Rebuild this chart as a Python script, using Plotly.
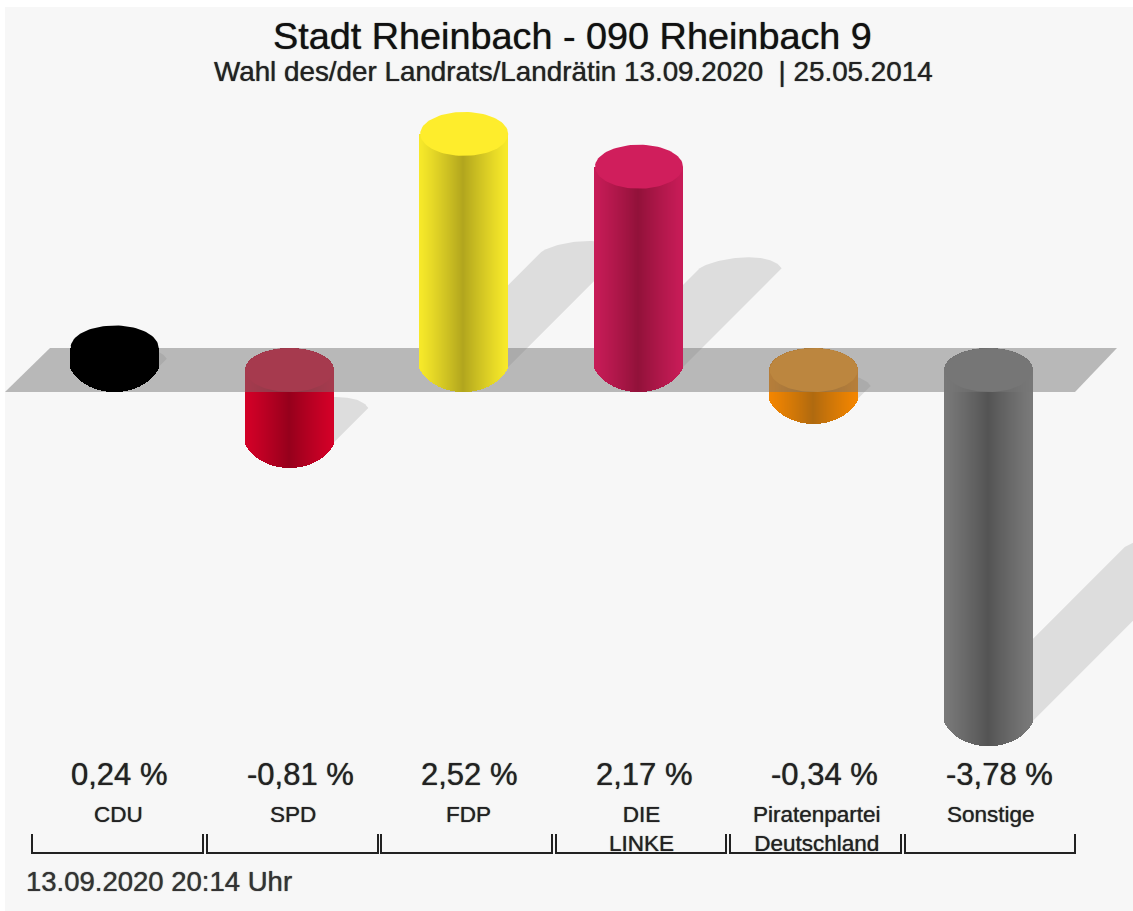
import numpy as np
import plotly.graph_objects as go

# ---- data ----
parties = ["CDU", "SPD", "FDP", "DIE<br>LINKE", "Piratenpartei<br>Deutschland", "Sonstige"]
values = [0.24, -0.81, 2.52, 2.17, -0.34, -3.78]
value_labels = ["0,24 %", "-0,81 %", "2,52 %", "2,17 %", "-0,34 %", "-3,78 %"]
title_text = "Stadt Rheinbach - 090 Rheinbach 9"
subtitle_text = "Wahl des/der Landrats/Landrätin 13.09.2020  | 25.05.2014"
stamp_text = "13.09.2020 20:14 Uhr"

# ---- styles ----
edge_colors = [(0, 0, 0), (212, 0, 40), (248, 234, 42), (200, 28, 88), (244, 134, 0), (122, 122, 122)]
mid_colors = [(0, 0, 0), (150, 0, 28), (178, 166, 30), (146, 18, 58), (176, 106, 16), (84, 84, 84)]
cap_colors = [(0, 0, 0), (212, 0, 40), (254, 237, 44), (208, 30, 92), (255, 150, 10), (118, 118, 118)]
W, H = 1133, 911
L, T = 5, 7
X0_PX, X_PX = 114.6, 174.8     # pixel of first category, pixels per category
Y0_PX, Y_PX = 370.0, 93.7      # pixel of zero, pixels per percentage point
RX, RY = 44.0, 22.0            # cylinder end ellipse radii in pixels
xr = [(L - X0_PX) / X_PX, (W - X0_PX) / X_PX]
yr = [(Y0_PX - H) / Y_PX, (Y0_PX - T) / Y_PX]
FONT = "Liberation Sans, Arial, sans-serif"


def dx(px):
    return px / X_PX


def dy(px):
    return px / Y_PX


def rgb(c):
    return f"rgb({c[0]},{c[1]},{c[2]})"


def paper_x(px):
    return (px - L) / (W - L)


def paper_y(py):
    return 1 - (py - T) / (H - T)


def bulge(w):
    """Chord-cut arc profile: 1 at w=0, 0 at w=+-1."""
    s = 0.93
    c = np.sqrt(1 - s ** 2)
    return (np.sqrt(1 - (s * w) ** 2) - c) / (1 - c)


fig = go.Figure()

# ---- cast shadows ----
SA, SB = 41.0, 11.0
w_back = np.linspace(1, -1, 50)
w_fwd = np.linspace(-1, 1, 50)
for i, v in enumerate(values):
    run = abs(v) * 0.5
    sx, sy = float(i), min(v, 0.0)
    ex, ey = i + run * Y_PX / X_PX, sy + run
    xs = np.r_[ex + dx(SA * w_back + 8 * (1 - w_back ** 2)), sx + dx(SA * w_fwd)]
    ys = np.r_[ey + dy(SB * bulge(w_back)), sy - dy(SB * bulge(w_fwd))]
    fig.add_trace(go.Scatter(x=xs, y=ys, mode="lines", fill="toself", line=dict(width=0),
                             fillcolor="rgba(0,0,0,0.1)", hoverinfo="skip", xaxis="x", yaxis="y"))

# ---- bracket lines ----
bracket_left = [32, 207, 381, 556, 730, 905]
bracket_right = [203, 378, 552, 726, 901, 1075]
bx, by = [], []
for a, b in zip(bracket_left, bracket_right):
    bx += [dx(a - X0_PX), dx(a - X0_PX), dx(b - X0_PX), dx(b - X0_PX), None]
    by += [dy(Y0_PX - 834), dy(Y0_PX - 853), dy(Y0_PX - 853), dy(Y0_PX - 834), None]
fig.add_trace(go.Scatter(x=bx, y=by, mode="lines", line=dict(color="#222222", width=2),
                         hoverinfo="skip", xaxis="x", yaxis="y"))


def cylinder(i, v, xa, ya):
    off = np.arange(-RX + 0.5, RX, 1.0)
    w = off / RX
    u = np.abs(w)
    arc = dy(RY * np.sqrt(1 - u ** 2))
    low = dy(-2 + (RY + 2) * bulge(w))     # lower end of the body
    t = (1 - u) ** 1.15
    e, m = np.array(edge_colors[i]), np.array(mid_colors[i])
    cols = [rgb((e + (m - e) * k).astype(int)) for k in t]
    if v >= 0:
        base = -low
        top = np.full_like(arc, v)
    else:
        base = v - low
        top = arc
    fig.add_trace(go.Bar(x=i + dx(off), y=top - base, base=base, width=dx(1.5),
                         marker=dict(color=cols, line=dict(width=0)),
                         hoverinfo="skip", xaxis=xa, yaxis=ya))
    a = np.linspace(0, 2 * np.pi, 90)
    cy = max(v, 0.0)
    fig.add_trace(go.Scatter(x=i + dx(RX * np.cos(a)), y=cy + dy(RY * np.sin(a)), mode="lines",
                             fill="toself", line=dict(width=0), fillcolor=rgb(cap_colors[i]),
                             hoverinfo="skip", xaxis=xa, yaxis=ya))


# ---- bars that hang below the plane ----
for i, v in enumerate(values):
    if v < 0:
        cylinder(i, v, "x2", "y2")

# ---- translucent plane ----
plane_x = [dx(5 - X0_PX), dx(50 - X0_PX), dx(1117 - X0_PX), dx(1075 - X0_PX), dx(5 - X0_PX)]
plane_y = [-dy(RY), dy(RY), dy(RY), -dy(RY), -dy(RY)]
fig.add_trace(go.Scatter(x=plane_x, y=plane_y, mode="lines", fill="toself", line=dict(width=0),
                         fillcolor="rgba(119,119,119,0.49)", hoverinfo="skip", xaxis="x2", yaxis="y2"))

# ---- bars that stand on the plane ----
for i, v in enumerate(values):
    if v >= 0:
        cylinder(i, v, "x3", "y3")

# ---- texts ----
SOFT = "0 0 1px rgba(0,0,0,0.75)"
ann = [
    dict(text=title_text, x=paper_x(572), y=paper_y(36), size=37.8, xref="paper", yref="paper", color="#111111"),
    dict(text=subtitle_text, x=paper_x(573), y=paper_y(71), size=27.8, xref="paper", yref="paper", color="#222222"),
    dict(text=stamp_text, x=paper_x(159), y=paper_y(881), size=27.5, xref="paper", yref="paper", color="#333333"),
]
value_px = [119, 300, 469, 644, 824, 999]
name_px = [118, 293, 468, 641, 817, 991]
for i in range(6):
    ann.append(dict(text=value_labels[i], x=dx(value_px[i] - X0_PX), y=dy(Y0_PX - 774), size=31,
                    xref="x", yref="y", color="#222222"))
annotations = [dict(text=a["text"], x=a["x"], y=a["y"], xref=a["xref"], yref=a["yref"], showarrow=False,
                    xanchor="center", yanchor="middle",
                    font=dict(family=FONT, size=a["size"], color=a["color"], shadow=SOFT)) for a in ann]
for i in range(6):
    annotations.append(dict(text=parties[i], x=dx(name_px[i] - X0_PX), y=dy(Y0_PX - 799.5), xref="x", yref="y",
                            showarrow=False, xanchor="center", yanchor="top", align="center",
                            font=dict(family=FONT, size=22.5, color="#222222", shadow=SOFT)))

hidden = dict(visible=False, fixedrange=True, showgrid=False, zeroline=False)
fig.update_layout(
    width=W, height=H, autosize=False,
    margin=dict(l=L, r=0, t=T, b=0, pad=0),
    paper_bgcolor="#ffffff", plot_bgcolor="#f7f7f7",
    barmode="overlay", bargap=0, showlegend=False,
    annotations=annotations,
    xaxis=dict(range=xr, **hidden), yaxis=dict(range=yr, **hidden),
    xaxis2=dict(range=xr, overlaying="x", **hidden), yaxis2=dict(range=yr, overlaying="y", **hidden),
    xaxis3=dict(range=xr, overlaying="x", **hidden), yaxis3=dict(range=yr, overlaying="y", **hidden),
)
fig.write_html("out.html", post_script="document.body.style.margin='0';", config={"displayModeBar": False})
